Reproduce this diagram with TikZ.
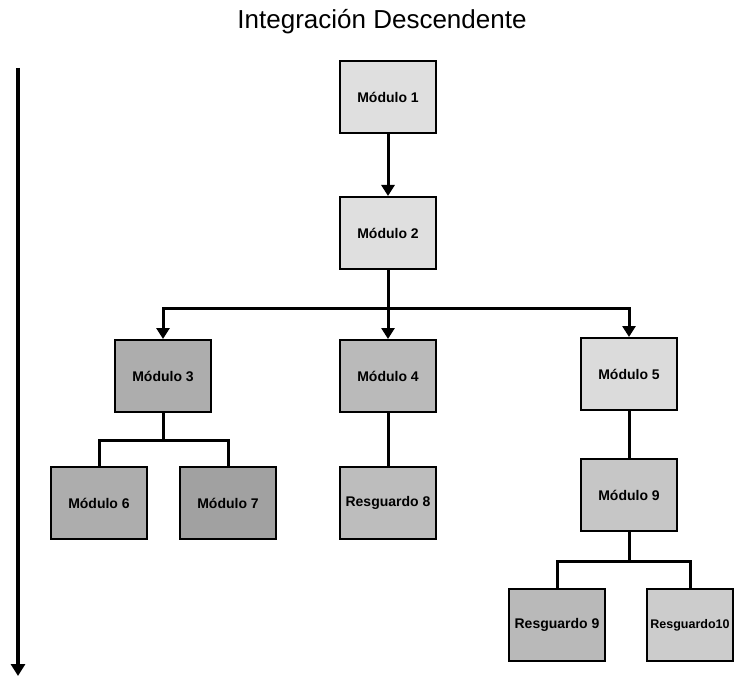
\documentclass[tikz,border=0pt]{standalone}
\usepackage{fontspec}
\setmainfont{Liberation Sans}
\usetikzlibrary{arrows.meta}
\begin{document}
\begin{tikzpicture}[x=1pt, y=-1pt,
	main/.style = {draw, line width=2pt, minimum width=96pt, minimum height=72pt, inner sep=1pt, font=\fontsize{14}{16}\selectfont\bfseries},
	link/.style = {line width=3pt},
	tip/.style = {line width=3pt, -{Triangle[width=13pt, length=11pt]}}]
	\useasboundingbox (0,0) rectangle (735,676);
	\node (title) at (382,22) {\fontsize{26}{30}\selectfont Integración Descendente};
	% time axis
	\coordinate (t0) at (18,68);
	\coordinate (t1) at (18,676);
	\draw[line width=3.5pt, -{Triangle[width=14pt, length=12pt]}] (t0) -- (t1);
	% modules
	\node[main, fill=gray!25] (1) at (388,97) {Módulo 1};
	\node[main, fill=gray!25] (2) at (388,233) {Módulo 2};
	\node[main, fill=gray!64] (3) at (163,376) {Módulo 3};
	\node[main, fill=gray!54] (4) at (388,376) {Módulo 4};
	\node[main, fill=gray!28] (5) at (629,374) {Módulo 5};
	\node[main, fill=gray!64] (6) at (99,503) {Módulo 6};
	\node[main, fill=gray!74] (7) at (228,503) {Módulo 7};
	\node[main, fill=gray!52] (r8) at (388,503) {Resguardo 8};
	\node[main, fill=gray!45] (9) at (629,495) {Módulo 9};
	\node[main, fill=gray!55] (r9) at (557,625) {Resguardo 9};
	\node[main, fill=gray!40, minimum width=86pt, font=\fontsize{12.5}{15}\selectfont\bfseries] (r10) at (690,625) {Resguardo10};
	% branch points
	\coordinate (b2) at (388,308);
	\coordinate (b3) at (163,440);
	\coordinate (b9) at (629,561);
	\draw[tip] (1) -- (2);
	\draw[link] (2) -- (b2);
	\draw[tip] (b2) -| (3);
	\draw[tip] (b2) -- (4);
	\draw[tip] (b2) -| (5);
	\draw[link] (3) -- (b3);
	\draw[link] (b3) -| (6);
	\draw[link] (b3) -| (7);
	\draw[link] (4) -- (r8);
	\draw[link] (5) -- (9);
	\draw[link] (9) -- (b9);
	\draw[link] (b9) -| (r9);
	\draw[link] (b9) -| (r10);
\end{tikzpicture}
\end{document}
